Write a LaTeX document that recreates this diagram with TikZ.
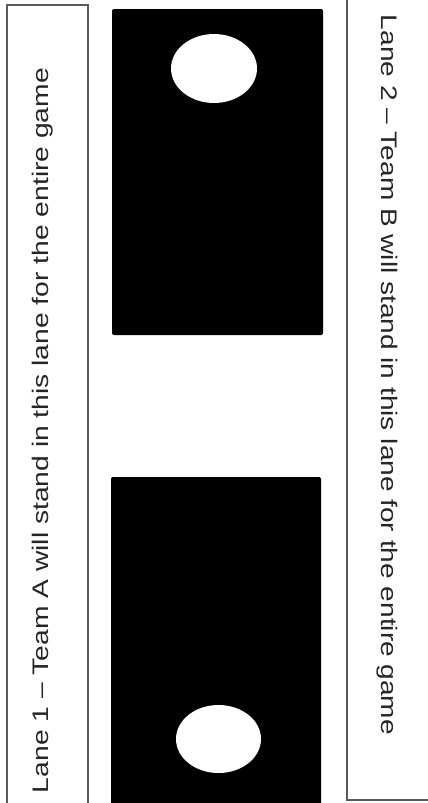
\documentclass[tikz,border=0pt]{standalone}
\usepackage{fontspec}
\setmainfont{Liberation Sans}
\usetikzlibrary{shapes.geometric}
\definecolor{lanegray}{HTML}{5A5A5A}
\definecolor{textgray}{HTML}{262626}
\begin{document}
\begin{tikzpicture}[x=1pt,y=-1pt,
  lanebox/.style={draw=lanegray,line width=1.3pt},
  board/.style={fill=black,rounded corners=2pt},
  hole/.style={ellipse,fill=white,inner sep=0pt},
  lanetext/.style={font=\fontsize{22.5}{26}\selectfont,text=textgray,inner sep=0pt,anchor=base}]
\useasboundingbox[fill=white] (0,0) rectangle (428,803);
\begin{scope}
  \clip (0,0) rectangle (428,803);
  \draw[lanebox] (7,812) -- (7,5) -- (88,5) -- (88,812);
  \draw[lanebox] (347,-8) -- (347,800) -- (440,800);
  \fill[board] (112,9) rectangle (323,335);
  \fill[board] (111,477) rectangle (321,830);
\end{scope}
\node[hole,minimum width=86pt,minimum height=69pt] (hole1) at (214,68.5) {};
\node[hole,minimum width=85pt,minimum height=68pt] (hole2) at (218.5,739) {};
\node[lanetext,rotate=90] (lane1) at (48.5,430.5)
  {\resizebox{725pt}{\height}{Lane 1 – Team A will stand in this lane for the entire game}};
\node[lanetext,rotate=-90] (lane2) at (381.5,375)
  {\resizebox{720pt}{\height}{Lane 2 – Team B will stand in this lane for the entire game}};
\end{tikzpicture}
\end{document}
